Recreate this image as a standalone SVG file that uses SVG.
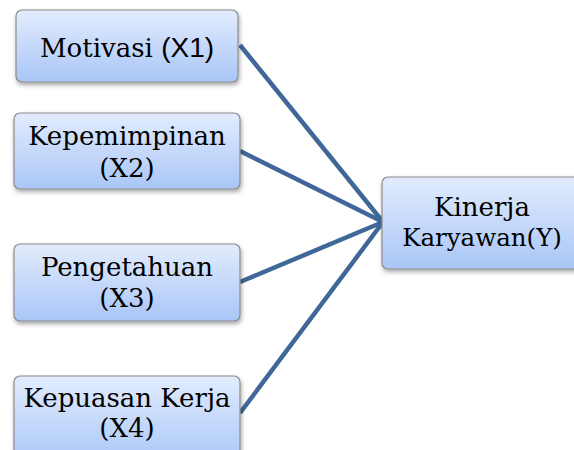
<svg xmlns="http://www.w3.org/2000/svg" width="574" height="450" viewBox="0 0 574 450">
<style>
.box{fill:url(#g);stroke:#8c8c8c;stroke-width:1.2;filter:url(#sh)}
.t{font-family:'DejaVu Serif','Liberation Serif',serif;font-size:26px;fill:#000;text-anchor:middle}
.c{stroke:#3F6898;stroke-width:4.5;fill:none;stroke-linecap:butt}
</style>
<defs>
<linearGradient id="g" x1="0" y1="0" x2="0" y2="1">
<stop offset="0" stop-color="#E2ECFD"/>
<stop offset="1" stop-color="#A9C6F7"/>
</linearGradient>
<filter id="sh" x="-10%" y="-10%" width="130%" height="140%">
<feDropShadow dx="1" dy="2.5" stdDeviation="2" flood-color="#000" flood-opacity="0.35"/>
</filter>
</defs>
<rect width="574" height="450" fill="#fff"/>
<g id="connectors">
<line class="c" x1="240" y1="45" x2="383" y2="222"/>
<line class="c" x1="240" y1="151" x2="383" y2="222"/>
<line class="c" x1="240" y1="282" x2="383" y2="222"/>
<line class="c" x1="240" y1="413" x2="383" y2="222"/>
</g>
<g id="x1">
<rect class="box" x="16" y="10" width="222" height="72" rx="6"/>
<text class="t" x="127" y="57">Motivasi <tspan style="font-family:'Liberation Sans',Arial,sans-serif;font-size:28px">(X1)</tspan></text>
</g>
<g id="x2">
<rect class="box" x="14" y="113" width="226" height="76" rx="6"/>
<text class="t" x="127" y="145">Kepemimpinan</text>
<text class="t" x="127" y="177">(X2)</text>
</g>
<g id="x3">
<rect class="box" x="14" y="244" width="226" height="77" rx="6"/>
<text class="t" x="127" y="276">Pengetahuan</text>
<text class="t" x="127" y="307">(X3)</text>
</g>
<g id="x4">
<rect class="box" x="14" y="376" width="226" height="90" rx="6"/>
<text class="t" x="127" y="407">Kepuasan Kerja</text>
<text class="t" x="127" y="437">(X4)</text>
</g>
<g id="y">
<rect class="box" x="382" y="177" width="200" height="92" rx="6"/>
<text class="t" x="482" y="216">Kinerja</text>
<text class="t" x="482" y="246" style="font-size:24.5px">Karyawan(Y)</text>
</g>
</svg>
